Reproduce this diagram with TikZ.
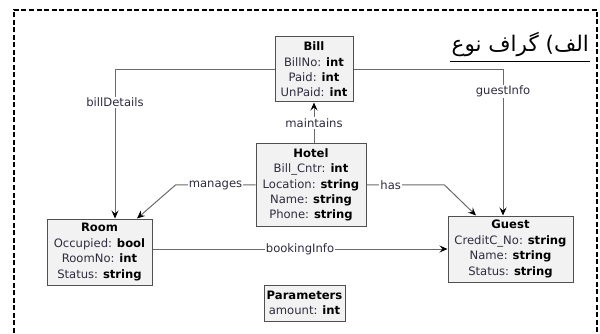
\documentclass[tikz,border=0pt]{standalone}
\usepackage{fontspec}
\usetikzlibrary{arrows.meta}
\newfontfamily\nodefont{DejaVu Sans}
\newfontfamily\arabicfont[Script=Arabic]{DejaVu Sans}
\TeXXeTstate=1
\definecolor{boxfill}{HTML}{F2F2F2}
\definecolor{boxline}{HTML}{505050}
\definecolor{connline}{HTML}{6A6A6A}
\definecolor{txtcol}{HTML}{2E2C3E}
\tikzset{
  cls/.style={draw=boxline, fill=boxfill, line width=1pt, align=center, inner sep=0pt,
    text=txtcol, font=\nodefont\fontsize{11.6}{15.4}\selectfont},
  lbl/.style={fill=white, inner sep=1.2pt, text=txtcol, font=\nodefont\fontsize{11.6}{14}\selectfont},
  arr/.style={draw=connline, line width=1pt, -{Stealth[length=8pt,width=7pt,inset=3pt,color=black]}},
  frame/.style={draw=black, line width=1.6pt, dash pattern=on 5pt off 2.5pt}
}
\newcommand{\bt}[1]{\textbf{\color{black}#1}}
\begin{document}
\begin{tikzpicture}[x=1pt,y=-1pt]
\useasboundingbox (0,0) rectangle (600,334);
\draw[frame] (14,340) -- (14,10) -- (597,10) -- (597,340);

\node[anchor=south east, inner sep=0pt, font=\arabicfont\fontsize{21.5}{24}\selectfont] (title) at (589,57) {\beginR الف) گراف نوع\endR};
\draw[line width=0.8pt] ([xshift=-1pt,yshift=-4pt]title.south west) -- ([xshift=1pt,yshift=-4pt]title.south east);

\node[cls, minimum width=78pt, minimum height=65pt] (Bill) at (314,69.5)
  {\bt{Bill}\\BillNo: \bt{int}\\Paid: \bt{int}\\UnPaid: \bt{int}};
\node[cls, minimum width=110pt, minimum height=82pt] (Hotel) at (311,185)
  {\bt{Hotel}\\Bill\_Cntr: \bt{int}\\Location: \bt{string}\\Name: \bt{string}\\Phone: \bt{string}};
\node[cls, minimum width=105pt, minimum height=66pt] (Room) at (99.5,252)
  {\bt{Room}\\Occupied: \bt{bool}\\RoomNo: \bt{int}\\Status: \bt{string}};
\node[cls, minimum width=125pt, minimum height=66pt] (Guest) at (510.5,249)
  {\bt{Guest}\\CreditC\_No: \bt{string}\\Name: \bt{string}\\Status: \bt{string}};
\node[cls, minimum width=81pt, minimum height=36pt] (Params) at (304.5,303)
  {\bt{Parameters}\\amount: \bt{int}};

\coordinate (RoomIn) at ([xshift=15.5pt]Room.north);
\coordinate (RoomIn2) at ([xshift=37.5pt]Room.north);
\coordinate (GuestIn) at ([xshift=-7.5pt]Guest.north);
\coordinate (GuestIn2) at ([xshift=-34.5pt]Guest.north);
\coordinate (mgBend) at ([xshift=-80pt]Hotel.west);
\coordinate (hasBend) at ([xshift=78pt]Hotel.east);

\draw[arr] (Bill.west) -- (Bill.west -| RoomIn) -- node[lbl, pos=0.22] {billDetails} (RoomIn);
\draw[arr] (Bill.east) -- (Bill.east -| GuestIn) -- node[lbl, pos=0.15] {guestInfo} (GuestIn);
\draw[arr] (Hotel.north -| Bill.south) -- node[lbl] {maintains} (Bill.south);
\draw[arr] (Hotel.west) -- node[lbl] {manages} (mgBend) -- (RoomIn2);
\draw[arr] (Hotel.east) -- node[lbl, pos=0.31] {has} (hasBend) -- (GuestIn2);
\draw[arr] (Room.east |- Guest.west) -- node[lbl] {bookingInfo} (Guest.west);
\end{tikzpicture}
\end{document}
